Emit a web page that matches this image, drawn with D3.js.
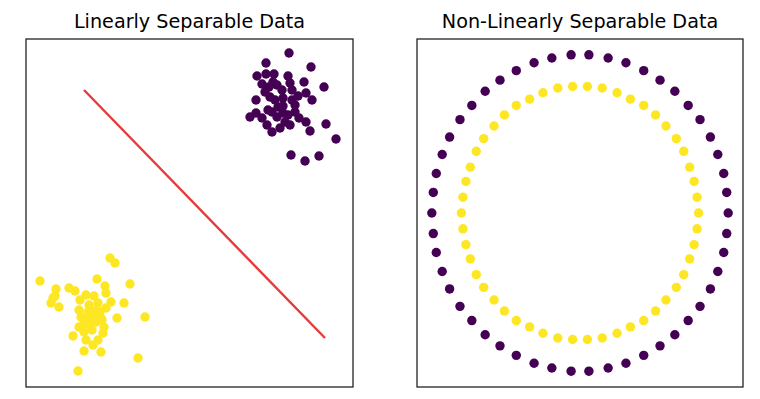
<!DOCTYPE html>
<html>
<head>
<meta charset="utf-8">
<script src="https://cdn.jsdelivr.net/npm/d3@7"></script>
<style>
  html, body { margin: 0; padding: 0; background: #fff; }
  svg { display: block; }
</style>
</head>
<body>
<svg id="chart" width="760" height="399"></svg>
<script>
// ---------- DATA ----------
const titles = ["Linearly Separable Data", "Non-Linearly Separable Data"];

// Left panel: two blobs (class 0 = purple, class 1 = yellow)
const blob0X = [26.3,24.0,28.5,23.1,24.0,24.8,26.2,27.8,29.8,28.0,28.6,23.0,22.4,23.0,28.0,28.4,31.0,26.5,27.9,29.3,30.0,24.3,25.1,26.4,25.6,26.6,24.4,24.9,25.7,26.6,26.9,24.2,24.6,25.1,25.7,26.2,26.9,24.1,24.6,25.4,25.9,24.7,23.9,25.7,25.2,23.6,26.4,27.2,23.6,27.3];
const blob0Y = [33.4,32.4,32.0,31.1,31.3,31.3,31.1,30.5,30.0,29.4,28.7,28.7,27.0,27.4,26.5,25.6,24.8,23.2,22.6,23.1,26.3,30.0,30.2,30.4,29.7,29.7,29.0,28.7,28.9,28.7,28.2,27.7,27.5,27.0,27.4,27.2,27.5,26.2,25.5,25.9,26.5,30.5,29.5,28.1,28.0,26.9,26.2,29.1,30.3,26.9];
const blob1X = [8.4,8.9,1.4,7.1,10.4,3.0,4.3,4.9,7.9,8.0,2.9,6.0,6.8,2.5,3.3,5.3,6.3,7.2,8.5,8.0,9.8,11.9,9.1,5.5,6.2,6.8,7.5,5.7,5.3,7.8,4.7,5.8,6.0,7.2,7.7,6.7,5.8,7.5,11.2,5.2,6.4,6.9,5.9,7.4,6.6,2.7,5.4,6.2,7.0,7.6];
const blob1Y = [12.9,12.4,10.6,10.8,10.3,9.8,9.9,9.6,10.1,9.4,9.1,9.2,9.1,8.4,8.0,7.7,8.2,8.4,8.5,7.9,8.4,7.0,6.9,7.0,7.0,7.0,6.9,6.2,6.0,6.0,5.1,5.5,4.7,4.7,5.4,4.2,3.6,3.5,2.9,1.6,6.2,7.6,6.5,7.5,5.7,8.9,8.7,7.5,6.5,6.7];
// separating line end points
const lineX = [5.8, 29.9];
const lineY = [29.7, 4.9];

// Right panel: concentric circles (outer = purple, inner = yellow)
const outerX = [1.00,0.99,0.97,0.93,0.88,0.81,0.73,0.64,0.54,0.43,0.31,0.19,0.06,
                -0.06,-0.19,-0.31,-0.43,-0.54,-0.64,-0.73,-0.81,-0.88,-0.93,-0.97,-0.99,-1.00,
                -0.99,-0.97,-0.93,-0.88,-0.81,-0.73,-0.64,-0.54,-0.43,-0.31,-0.19,-0.06,
                0.06,0.19,0.31,0.43,0.54,0.64,0.73,0.81,0.88,0.93,0.97,0.99];
const outerY = [0.00,0.13,0.25,0.37,0.48,0.59,0.68,0.77,0.84,0.90,0.95,0.98,1.00,
                1.00,0.98,0.95,0.90,0.84,0.77,0.68,0.59,0.48,0.37,0.25,0.13,0.00,
                -0.13,-0.25,-0.37,-0.48,-0.59,-0.68,-0.77,-0.84,-0.90,-0.95,-0.98,-1.00,
                -1.00,-0.98,-0.95,-0.90,-0.84,-0.77,-0.68,-0.59,-0.48,-0.37,-0.25,-0.13];
const innerX = [0.80,0.79,0.77,0.74,0.70,0.65,0.58,0.51,0.43,0.34,0.25,0.15,0.05,
                -0.05,-0.15,-0.25,-0.34,-0.43,-0.51,-0.58,-0.65,-0.70,-0.74,-0.77,-0.79,-0.80,
                -0.79,-0.77,-0.74,-0.70,-0.65,-0.58,-0.51,-0.43,-0.34,-0.25,-0.15,-0.05,
                0.05,0.15,0.25,0.34,0.43,0.51,0.58,0.65,0.70,0.74,0.77,0.79];
const innerY = [0.00,0.10,0.20,0.29,0.39,0.47,0.55,0.62,0.68,0.72,0.76,0.79,0.80,
                0.80,0.79,0.76,0.72,0.68,0.62,0.55,0.47,0.39,0.29,0.20,0.10,0.00,
                -0.10,-0.20,-0.29,-0.39,-0.47,-0.55,-0.62,-0.68,-0.72,-0.76,-0.79,-0.80,
                -0.80,-0.79,-0.76,-0.72,-0.68,-0.62,-0.55,-0.47,-0.39,-0.29,-0.20,-0.10];

// ---------- STYLE ----------
const colorClass = ["#440154", "#fde725"];
const dotR = 4.7;
const svg = d3.select("#chart");

function panel(left, right, top, bottom, xDom, yDom, title) {
  const x = d3.scaleLinear().domain(xDom).range([left, right]);
  const y = d3.scaleLinear().domain(yDom).range([bottom, top]);
  const g = svg.append("g");
  g.append("text")
    .attr("x", (left + right) / 2)
    .attr("y", top - 11)
    .attr("text-anchor", "middle")
    .attr("font-family", "DejaVu Sans")
    .attr("font-size", 19.2)
    .attr("fill", "#000")
    .text(title);
  return {x, y, g, left, right, top, bottom};
}

function frame(p) {
  p.g.append("rect")
    .attr("x", p.left).attr("y", p.top)
    .attr("width", p.right - p.left).attr("height", p.bottom - p.top)
    .attr("fill", "none").attr("stroke", "#222").attr("stroke-width", 1.3);
}

function dots(p, xs, ys, color) {
  p.g.append("g").selectAll("circle")
    .data(xs.map((v, i) => [v, ys[i]]))
    .join("circle")
    .attr("cx", d => p.x(d[0]))
    .attr("cy", d => p.y(d[1]))
    .attr("r", dotR)
    .attr("fill", color);
}

// Left panel
const pL = panel(26, 353, 39, 387, [0, 32.7], [0, 34.8], titles[0]);
dots(pL, blob0X, blob0Y, colorClass[0]);
dots(pL, blob1X, blob1Y, colorClass[1]);
pL.g.append("path")
  .datum(lineX.map((v, i) => [v, lineY[i]]))
  .attr("d", d3.line().x(d => pL.x(d[0])).y(d => pL.y(d[1])))
  .attr("stroke", "#e63b3b").attr("stroke-width", 2.4).attr("fill", "none");
frame(pL);

// Right panel
const pR = panel(417, 743, 39, 387, [-1.1, 1.1], [-1.1, 1.1], titles[1]);
dots(pR, outerX, outerY, colorClass[0]);
dots(pR, innerX, innerY, colorClass[1]);
frame(pR);
</script>
</body>
</html>
